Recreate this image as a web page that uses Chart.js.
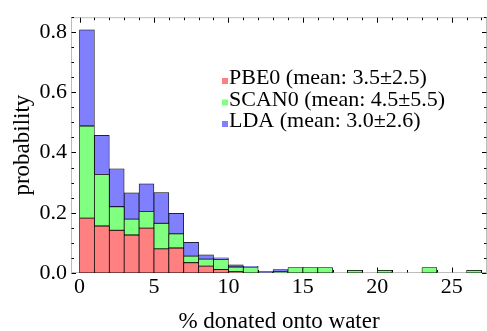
<!DOCTYPE html>
<html lang="en">
<head>
  <meta charset="UTF-8" />
  <title>% donated onto water</title>
  <script src="https://cdn.jsdelivr.net/npm/chart.js"></script>
  <style>
    html, body { margin: 0; padding: 0; background: #fff; }
  </style>
</head>
<body>
  <canvas id="histograma" width="487" height="331"></canvas>

  <script>
    // bins of width 1, given by their left edge
    const binStarts = [0, 1, 2, 3, 4, 5, 6, 7, 8, 9, 10, 11, 12, 13, 14, 15, 16, 17, 18, 19, 20, 21, 22, 23, 24, 25, 26];

    const pbe0 = [0.182, 0.156, 0.142, 0.126, 0.149, 0.080, 0.083, 0.034, 0.023, 0.011, 0.005, 0, 0, 0, 0, 0, 0, 0, 0, 0, 0, 0, 0, 0, 0, 0, 0];
    const scan0 = [0.306, 0.171, 0.078, 0.053, 0.055, 0.085, 0.047, 0.022, 0.023, 0.034, 0.015, 0.020, 0, 0.005, 0.018, 0.018, 0.018, 0, 0.009, 0, 0.009, 0, 0, 0.018, 0, 0, 0.009];
    const lda = [0.319, 0.130, 0.126, 0.087, 0.092, 0.102, 0.068, 0.046, 0.014, 0.005, 0.007, 0.002, 0.005, 0.006, 0, 0, 0, 0, 0, 0, 0, 0, 0, 0, 0, 0, 0];

    const seriesNames = ["PBE0 (mean: 3.5±2.5)", "SCAN0 (mean: 4.5±5.5)", "LDA (mean: 3.0±2.6)"];
    const xTickValues = [0, 5, 10, 15, 20, 25];
    const yTickValues = [0, 0.2, 0.4, 0.6, 0.8];

    const cores = ["#ff8080", "#80ff80", "#8080ff"];
    const fonte = "'Liberation Serif', 'Times New Roman', serif";

    function montarSerie(valores) {
      return binStarts.map((b, i) => ({ x: b + 0.5, y: valores[i] === 0 ? null : valores[i] }));
    }

    // grey frame plus inward ticks on all four sides, like the original
    const moldura = {
      id: "moldura",
      beforeDatasetsDraw(chart) {
        const { ctx, chartArea: a, scales: { x, y } } = chart;
        const L = a.left + 0.5, R = a.right - 0.5, T = a.top + 0.5, B = a.bottom - 0.5;
        ctx.save();
        ctx.strokeStyle = "#bdbdbd";
        ctx.lineWidth = 1;
        ctx.strokeRect(L, T, R - L, B - T);

        ctx.strokeStyle = "#000";
        ctx.beginPath();
        for (let v = 0; v <= 27; v++) {
          const px = Math.round(x.getPixelForValue(v)) + 0.5;
          const len = v % 5 === 0 ? 5 : 2.5;
          ctx.moveTo(px, B); ctx.lineTo(px, B - len);
          ctx.moveTo(px, T); ctx.lineTo(px, T + len);
        }
        for (let k = 0; k <= 17; k++) {
          const v = k * 0.05;
          const py = Math.round(y.getPixelForValue(v)) + 0.5;
          const len = k % 4 === 0 ? 4.5 : 2.5;
          ctx.moveTo(L, py); ctx.lineTo(L + len, py);
          ctx.moveTo(R, py); ctx.lineTo(R - len, py);
        }
        ctx.stroke();
        ctx.restore();
      }
    };

    const legenda = {
      id: "legenda",
      afterDraw(chart) {
        const { ctx } = chart;
        ctx.save();
        ctx.font = "22px " + fonte;
        ctx.textBaseline = "alphabetic";
        ctx.textAlign = "left";
        seriesNames.forEach((nome, i) => {
          const base = 84 + i * 21.5;
          ctx.fillStyle = cores[i];
          ctx.fillRect(222, base - 6, 6, 6);
          ctx.fillStyle = "#000";
          ctx.fillText(nome, 229, base);
        });
        ctx.restore();
      }
    };

    const ctxHist = document.getElementById("histograma").getContext("2d");

    new Chart(ctxHist, {
      type: "bar",
      data: {
        datasets: [pbe0, scan0, lda].map((valores, i) => ({
          label: seriesNames[i],
          data: montarSerie(valores),
          backgroundColor: cores[i],
          borderColor: "#000",
          borderWidth: 0.75,
          borderSkipped: false,
          barPercentage: 1,
          categoryPercentage: 1,
        })),
      },
      options: {
        responsive: false,
        animation: false,
        layout: { padding: { top: 14, right: 0, left: 0, bottom: 0 } },
        scales: {
          x: {
            type: "linear",
            stacked: true,
            offset: false,
            min: -0.571,
            max: 27.37,
            afterFit: (s) => { s.height = 58; },
            afterBuildTicks: (s) => { s.ticks = xTickValues.map(v => ({ value: v })); },
            grid: { display: false, drawTicks: false, tickLength: 0 },
            border: { display: false },
            ticks: {
              color: "#000",
              padding: 1,
              maxRotation: 0,
              font: { family: fonte, size: 22 },
              callback: (v) => String(v),
            },
            title: {
              display: true,
              text: "% donated onto water",
              color: "#000",
              padding: 0,
              font: { family: fonte, size: 23, lineHeight: 0.8 },
            },
          },
          y: {
            stacked: true,
            min: 0,
            max: 0.849,
            afterFit: (s) => { s.width = 71; },
            afterBuildTicks: (s) => { s.ticks = yTickValues.map(v => ({ value: v })); },
            grid: { display: false, drawTicks: false, tickLength: 0 },
            border: { display: false },
            ticks: {
              color: "#000",
              padding: 4,
              font: { family: fonte, size: 22 },
              callback: (v) => Number(v).toFixed(1),
            },
            title: {
              display: true,
              text: "probability",
              color: "#000",
              padding: { top: 14, bottom: 0 },
              font: { family: fonte, size: 23, lineHeight: 0.8 },
            },
          },
        },
        plugins: {
          legend: { display: false },
          tooltip: { enabled: false },
        },
      },
      plugins: [moldura, legenda],
    });
  </script>
</body>
</html>
